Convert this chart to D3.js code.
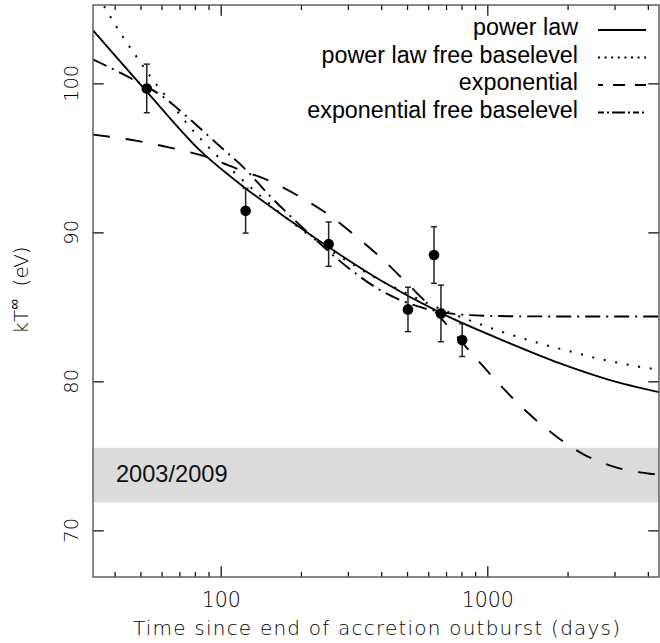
<!DOCTYPE html>
<html><head><meta charset="utf-8">
<script src="https://cdn.jsdelivr.net/npm/d3@7/dist/d3.min.js"></script>
<style>body{margin:0;background:#fff}</style>
</head><body><svg id="c" width="660" height="643"></svg>
<script>
// ---- data ----
const pointDays = [52.8, 124, 254, 504, 631, 670, 805];
const pointKT   = [99.66, 91.45, 89.21, 84.83, 88.48, 84.56, 82.77];
const pointErr  = [1.63, 1.5, 1.49, 1.49, 1.9, 1.9, 1.1];

const powerLawDays = [33.19, 52.8, 83.6, 123, 182, 253, 396, 674, 1217, 1874, 2886, 4405];
const powerLawKT   = [103.56, 99.45, 95.5, 93.0, 90.8, 89.03, 86.8, 84.56, 82.55, 81.21, 80.09, 79.28];

const powerFreeDays = [34.7, 36.5, 43.1, 48.8, 55.1, 62.4, 75.6, 87.3, 110, 138.4, 176.9, 210.2, 268.4, 323.6, 389, 470.5, 567.4, 670.4, 925, 1132, 1385, 1689, 2073, 2535, 3092, 3837, 4405];
const powerFreeKT   = [105.86, 105.19, 103.09, 101.68, 100.34, 99.10, 97.20, 95.97, 94.18, 92.57, 90.94, 89.93, 88.59, 87.69, 86.85, 86.13, 85.41, 84.85, 83.88, 83.33, 82.84, 82.39, 81.99, 81.58, 81.25, 80.94, 80.79];

const expDays = [33.19, 48, 64.5, 86, 116, 153, 199, 256, 326, 407, 508, 620, 750, 931, 1148, 1409, 1779, 2285, 3013, 4077, 4405];
const expKT   = [96.56, 96.16, 95.69, 95.13, 94.25, 93.44, 92.37, 91.14, 89.65, 88.16, 86.46, 84.9, 83.25, 81.32, 79.53, 77.94, 76.42, 75.12, 74.25, 73.8, 73.75];

const expFreeDays = [33.19, 37, 46.5, 60.8, 76.5, 99, 126, 150, 190, 218, 302, 390, 570, 780, 1000, 1500, 4405];
const expFreeKT   = [101.6, 101.2, 100.3, 99.1, 97.6, 95.8, 94.1, 92.6, 90.8, 89.8, 87.6, 86.2, 84.95, 84.5, 84.4, 84.36, 84.35];

const bandRange = [71.88, 75.54];
const bandLabel = "2003/2009";

const xDomain = [33.19, 4405];
const yDomain = [66.87, 105.26];
const xMajorTicks = [100, 1000];
const xMinorTicks = [40,50,60,70,80,90,200,300,400,500,600,700,800,900,2000,3000,4000];
const yTickValues = [70, 80, 90, 100];

const legendNames = ["power law", "power law free baselevel", "exponential", "exponential free baselevel"];

// ---- drawing ----
const svg = d3.select("#c");
const W = 660, H = 643;
const m = {l: 93, r: 659, t: 5, b: 577};
const x = d3.scaleLog().domain(xDomain).range([m.l, m.r]);
const y = d3.scaleLinear().domain(yDomain).range([m.b, m.t]);

svg.append("rect").attr("width", W).attr("height", H).attr("fill", "#fff");
svg.append("defs").append("clipPath").attr("id", "clip")
  .append("rect").attr("x", m.l).attr("y", m.t).attr("width", m.r - m.l).attr("height", m.b - m.t);

// band
svg.append("rect")
  .attr("x", m.l).attr("width", m.r - m.l)
  .attr("y", y(bandRange[1])).attr("height", y(bandRange[0]) - y(bandRange[1]))
  .attr("fill", "#dcdcdc");
svg.append("text").attr("x", 116).attr("y", 482)
  .attr("font-family", "Liberation Sans, Arial, sans-serif").attr("font-size", 23.6)
  .attr("fill", "#111").text(bandLabel);

// curves
const zip = (a, b) => a.map((v, i) => [v, b[i]]);
const line = d3.line().x(d => x(d[0])).y(d => y(d[1])).curve(d3.curveMonotoneX);
const series = [
  {data: zip(powerLawDays, powerLawKT), dash: null, w: 1.8, legDash: null, cap: "butt"},
  {data: zip(powerFreeDays, powerFreeKT), dash: "2,9.7", w: 2, legDash: "2,4.6", cap: "butt"},
  {data: zip(expDays, expKT), dash: "17,16", w: 1.9, legDash: "12,10", legOff: 7, cap: "butt"},
  {data: zip(expFreeDays, expFreeKT), dash: "15,6,2,6", w: 1.9, legDash: "6,3,2,3,13,3,2,3", legOff: 0, cap: "butt"}
];
const cg = svg.append("g").attr("clip-path", "url(#clip)");
series.forEach(s => {
  cg.append("path").attr("d", line(s.data)).attr("fill", "none")
    .attr("stroke", "#000").attr("stroke-width", s.w)
    .attr("stroke-dasharray", s.dash).attr("stroke-linecap", s.cap);
});

// error bars + points
const pts = pointDays.map((d, i) => ({d, v: pointKT[i], e: pointErr[i]}));
const eg = svg.append("g").attr("stroke", "#222").attr("stroke-width", 1.5);
pts.forEach(p => {
  const cx = x(p.d);
  eg.append("line").attr("x1", cx).attr("x2", cx).attr("y1", y(p.v - p.e)).attr("y2", y(p.v + p.e));
  eg.append("line").attr("x1", cx - 3).attr("x2", cx + 3).attr("y1", y(p.v - p.e)).attr("y2", y(p.v - p.e));
  eg.append("line").attr("x1", cx - 3).attr("x2", cx + 3).attr("y1", y(p.v + p.e)).attr("y2", y(p.v + p.e));
});
svg.append("g").selectAll("circle").data(pts).join("circle")
  .attr("cx", p => x(p.d)).attr("cy", p => y(p.v)).attr("r", 5.3).attr("fill", "#000");

// axes ticks
const tickStyle = g => { g.select(".domain").remove(); g.selectAll("line").attr("stroke", "#000").attr("stroke-width", 1.2); };
const lightFont = "DejaVu Sans, sans-serif";
const bx = svg.append("g").attr("transform", `translate(0,${m.b})`)
  .call(d3.axisBottom(x).tickValues(xMajorTicks).tickSize(-10.7).tickPadding(15).tickFormat(d3.format("d")));
bx.call(tickStyle);
bx.selectAll("text").attr("font-family", lightFont).attr("font-weight", 200).attr("font-size", 20.5).attr("fill", "#000");
svg.append("g").attr("transform", `translate(0,${m.b})`)
  .call(d3.axisBottom(x).tickValues(xMinorTicks).tickSize(-5).tickFormat("")).call(tickStyle);
svg.append("g").attr("transform", `translate(0,${m.t})`)
  .call(d3.axisTop(x).tickValues(xMajorTicks).tickSize(-10.7).tickFormat("")).call(tickStyle);
svg.append("g").attr("transform", `translate(0,${m.t})`)
  .call(d3.axisTop(x).tickValues(xMinorTicks).tickSize(-5).tickFormat("")).call(tickStyle);
svg.append("g").attr("transform", `translate(${m.l},0)`)
  .call(d3.axisLeft(y).tickValues(yTickValues).tickSize(-10.7).tickFormat("")).call(tickStyle);
svg.append("g").attr("transform", `translate(${m.r},0)`)
  .call(d3.axisRight(y).tickValues(yTickValues).tickSize(-10.7).tickFormat("")).call(tickStyle);

// y tick labels (rotated)
svg.append("g").selectAll("text").data(yTickValues).join("text")
  .attr("transform", v => `translate(78.3,${y(v)}) rotate(-90)`)
  .attr("text-anchor", "middle").attr("font-family", lightFont).attr("font-weight", 200)
  .attr("font-size", 19.5).attr("fill", "#000").text(v => v);

// frame
svg.append("rect").attr("x", m.l).attr("y", m.t).attr("width", m.r - m.l).attr("height", m.b - m.t)
  .attr("fill", "none").attr("stroke", "#555").attr("stroke-width", 1.4);

// axis titles
svg.append("text").attr("x", (133 + 620) / 2).attr("y", 635).attr("text-anchor", "middle")
  .attr("font-family", lightFont).attr("font-weight", 200).attr("font-size", 20)
  .attr("textLength", 487).attr("lengthAdjust", "spacing").attr("fill", "#000")
  .text("Time since end of accretion outburst (days)");
const yt = svg.append("text").attr("transform", "translate(28,290) rotate(-90)")
  .attr("text-anchor", "middle").attr("font-family", lightFont).attr("font-weight", 200)
  .attr("font-size", 20).attr("fill", "#000");
yt.append("tspan").text("kT");
yt.append("tspan").attr("dy", -9).attr("font-size", 15).text("∞");
yt.append("tspan").attr("dy", 9).text("\u00a0\u00a0(eV)");

// legend
const legBase = [35, 62.5, 90, 117.5];
const lg = svg.append("g");
legendNames.forEach((name, i) => {
  lg.append("text").attr("x", 578).attr("y", legBase[i]).attr("text-anchor", "end")
    .attr("font-family", "Liberation Sans, Arial, sans-serif").attr("font-size", 23.3)
    .attr("fill", "#000").text(name);
  const s = series[i];
  lg.append("line").attr("x1", 598).attr("x2", 646).attr("y1", legBase[i] - 5).attr("y2", legBase[i] - 5)
    .attr("stroke", "#000").attr("stroke-width", s.w)
    .attr("stroke-dasharray", s.legDash).attr("stroke-dashoffset", s.legOff || 0);
});
</script></body></html>
